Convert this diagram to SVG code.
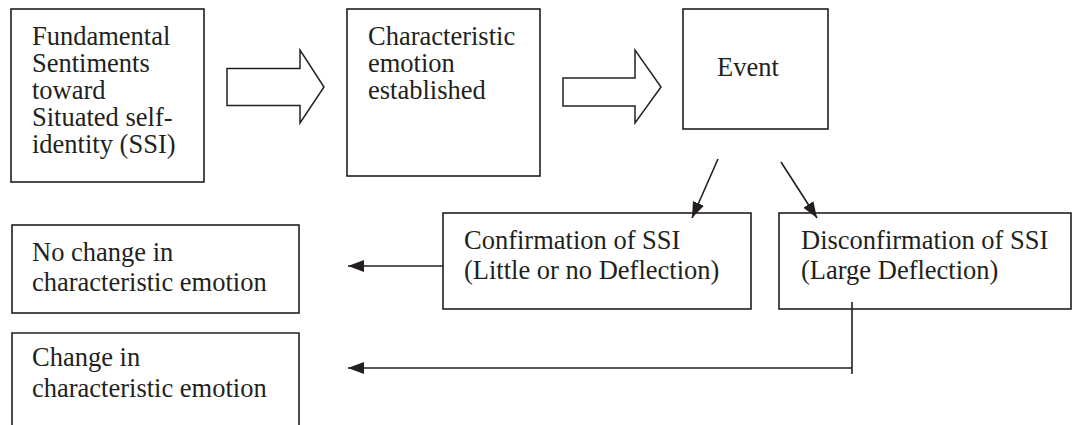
<svg xmlns="http://www.w3.org/2000/svg" width="1074" height="425" viewBox="0 0 1074 425">
<defs>
<style>
.box{fill:#fff;stroke:#231f20;stroke-width:1.6}
.blk{fill:#fff;stroke:#231f20;stroke-width:1.5;stroke-linejoin:miter}
.t{font-family:"Liberation Serif","Times New Roman",serif;font-size:26.5px;fill:#231f20}
.ln{fill:none;stroke:#231f20;stroke-width:1.6}
</style>
<marker id="ah" viewBox="0 0 16 12" refX="16" refY="6" markerWidth="16" markerHeight="12" orient="auto" markerUnits="userSpaceOnUse">
<path d="M0,0 L16,6 L0,12 z" fill="#231f20"/>
</marker>
</defs>
<rect width="1074" height="425" fill="#fff"/>
<g id="n-fundamental">
<rect class="box" x="11" y="9" width="193" height="173"/>
<text class="t" x="32" y="45"><tspan x="32" y="45">Fundamental</tspan><tspan x="32" y="72">Sentiments</tspan><tspan x="32" y="99">toward</tspan><tspan x="32" y="126">Situated self-</tspan><tspan x="32" y="153">identity (SSI)</tspan></text>
</g>
<g id="n-characteristic">
<rect class="box" x="347" y="9" width="193" height="167"/>
<text class="t" x="368" y="45"><tspan x="368" y="45">Characteristic</tspan><tspan x="368" y="72">emotion</tspan><tspan x="368" y="99">established</tspan></text>
</g>
<g id="n-event">
<rect class="box" x="683" y="9" width="145" height="120"/>
<text class="t" x="717" y="76">Event</text>
</g>
<g id="n-confirmation">
<rect class="box" x="443" y="213" width="308" height="96"/>
<text class="t" x="464" y="249"><tspan x="464" y="249">Confirmation of SSI</tspan><tspan x="464" y="279">(Little or no Deflection)</tspan></text>
</g>
<g id="n-disconfirmation">
<rect class="box" x="779" y="213" width="292" height="96"/>
<text class="t" x="801" y="249"><tspan x="801" y="249">Disconfirmation of SSI</tspan><tspan x="801" y="279">(Large Deflection)</tspan></text>
</g>
<g id="n-nochange">
<rect class="box" x="12" y="225" width="287" height="88"/>
<text class="t" x="32" y="261"><tspan x="32" y="261">No change in</tspan><tspan x="32" y="291">characteristic emotion</tspan></text>
</g>
<g id="n-change">
<path class="box" d="M12,427 L12,333 L299,333 L299,427"/>
<text class="t" x="32" y="366"><tspan x="32" y="366">Change in</tspan><tspan x="32" y="397">characteristic emotion</tspan></text>
</g>
<g id="connectors">
<path class="blk" d="M227,68.5 L300,68.5 L300,50 L324,87 L300,123 L300,105.5 L227,105.5 Z"/>
<path class="blk" d="M563,78 L635,78 L635,50 L661,87 L635,123 L635,106 L563,106 Z"/>
<line class="ln" x1="718" y1="159" x2="692" y2="218" marker-end="url(#ah)"/>
<line class="ln" x1="781" y1="162" x2="817" y2="218" marker-end="url(#ah)"/>
<line class="ln" x1="443" y1="266" x2="348" y2="266" marker-end="url(#ah)"/>
<line class="ln" x1="852" y1="302" x2="852" y2="374"/>
<line class="ln" x1="852" y1="368" x2="348" y2="368" marker-end="url(#ah)"/>
</g>
</svg>
